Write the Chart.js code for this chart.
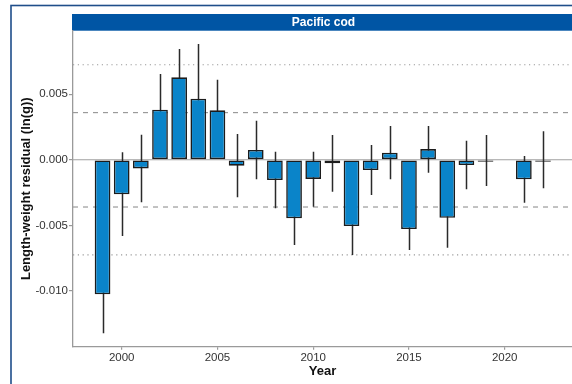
<!DOCTYPE html>
<html>
<head>
<meta charset="utf-8">
<script src="https://cdn.jsdelivr.net/npm/chart.js@4.4.1/dist/chart.umd.min.js"></script>
<style>
  html, body { margin: 0; padding: 0; background: #fff; overflow: hidden; }
  #wrap { width: 572px; height: 384px; }
</style>
</head>
<body>
<div id="wrap"><canvas id="c" width="572" height="384"></canvas></div>
<script>
// Survey years and mean length-weight residuals, ln(g)
const years = [1999, 2000, 2001, 2002, 2003, 2004, 2005, 2006, 2007, 2008, 2009, 2010,
               2011, 2012, 2013, 2014, 2015, 2016, 2017, 2018, 2019, 2020, 2021, 2022];
const residual = [-0.01026, -0.00263, -0.00066, 0.00382, 0.00629, 0.00466, 0.00377, -0.00045,
                  0.00075, -0.00154, -0.00446, -0.00146, -0.00027, -0.00505, -0.00078, 0.00054,
                  -0.00528, 0.00082, -0.00442, -0.00040, -0.00007, null, -0.00149, -0.00002];
// Lower and upper ends of the error bars
const errLow = [-0.01323, -0.00581, -0.00324, 0.00110, 0.00413, 0.00049, 0.00143, -0.00286,
                -0.00149, -0.00370, -0.00650, -0.00358, -0.00243, -0.00726, -0.00268, -0.00149,
                -0.00688, -0.00098, -0.00670, -0.00225, -0.00200, null, -0.00327, -0.00217];
const errHigh = [-0.00729, 0.00057, 0.00191, 0.00654, 0.00845, 0.00883, 0.00611, 0.00197,
                 0.00298, 0.00062, -0.00242, 0.00062, 0.00189, -0.00284, 0.00113, 0.00258,
                 -0.00368, 0.00258, -0.00214, 0.00146, 0.00189, null, 0.00029, 0.00217];
// Reference lines: one (dashed) and two (dotted) standard deviations
const sdOne = 0.0036;
const sdTwo = 0.00725;
const xTicks = [2000, 2005, 2010, 2015, 2020];
const yTicks = [-0.010, -0.005, 0.000, 0.005];
const panelTitle = 'Pacific cod';

const FONT = '"Liberation Sans", Arial, Helvetica, sans-serif';

const points = [];
years.forEach((yr, i) => { if (residual[i] !== null) points.push({ x: yr, y: residual[i] }); });

// Page frame, facet strip, reference lines and error bars
const decor = {
  id: 'decor',
  beforeDraw(chart) {
    const { ctx, chartArea } = chart;
    ctx.save();
    ctx.fillStyle = '#ffffff';
    ctx.fillRect(0, 0, chart.width, chart.height);
    ctx.strokeStyle = '#1F4E8A';
    ctx.lineWidth = 1.6;
    ctx.strokeRect(11, 5.5, 700, 500);
    // facet strip
    ctx.fillStyle = '#0055A4';
    ctx.fillRect(chartArea.left - 1, 14, 520, chartArea.top - 14);
    ctx.fillStyle = '#ffffff';
    ctx.font = 'bold 12px ' + FONT;
    ctx.textAlign = 'center';
    ctx.textBaseline = 'middle';
    ctx.fillText(panelTitle, 323.5, (14 + chartArea.top) / 2 + 0.5);
    ctx.restore();
  },
  beforeDatasetsDraw(chart) {
    const { ctx, chartArea, scales } = chart;
    const y = scales.y, x = scales.x;
    ctx.save();
    ctx.beginPath();
    ctx.rect(chartArea.left, chartArea.top, chartArea.right - chartArea.left, chartArea.bottom - chartArea.top);
    ctx.clip();
    const hline = (v, dash, color, w) => {
      const py = y.getPixelForValue(v);
      ctx.beginPath();
      ctx.setLineDash(dash);
      ctx.strokeStyle = color;
      ctx.lineWidth = w;
      ctx.moveTo(chartArea.left, py);
      ctx.lineTo(chartArea.right, py);
      ctx.stroke();
    };
    hline(0, [], '#a0a0a0', 1.1);
    hline(sdOne, [5, 5], '#9a9a9a', 1.2);
    hline(-sdOne, [5, 5], '#9a9a9a', 1.2);
    hline(sdTwo, [1.2, 3.6], '#9a9a9a', 1.2);
    hline(-sdTwo, [1.2, 3.6], '#9a9a9a', 1.2);
    ctx.setLineDash([]);
    ctx.strokeStyle = '#2a2a2a';
    ctx.lineWidth = 1.5;
    years.forEach((yr, i) => {
      if (errLow[i] === null) return;
      const px = Math.round(x.getPixelForValue(yr)) + 0.5;
      ctx.beginPath();
      ctx.moveTo(px, y.getPixelForValue(errLow[i]));
      ctx.lineTo(px, y.getPixelForValue(errHigh[i]));
      ctx.stroke();
    });
    ctx.restore();
  }
};

new Chart(document.getElementById('c'), {
  type: 'bar',
  data: {
    datasets: [{
      data: points,
      backgroundColor: '#0A84C9',
      borderColor: '#1c1c1c',
      borderWidth: 1.6,
      borderSkipped: false,
      minBarLength: 2,
      barPercentage: 0.82,
      categoryPercentage: 1.0
    }]
  },
  options: {
    responsive: false,
    animation: false,
    devicePixelRatio: 1,
    layout: { padding: { left: 0, right: 0, top: 30.7, bottom: 0 } },
    plugins: { legend: { display: false }, tooltip: { enabled: false }, title: { display: false } },
    scales: {
      x: {
        type: 'linear',
        min: 1997.457,
        max: 2023.514,
        offset: false,
        afterBuildTicks: s => { s.ticks = xTicks.map(v => ({ value: v })); },
        afterFit: s => { s.height = 37.3; },
        grid: { offset: false, drawOnChartArea: false, drawTicks: true, tickLength: 3, color: '#999999', lineWidth: 1.2 },
        border: { display: true, color: '#9a9a9a', width: 1.3 },
        ticks: { font: { family: FONT, size: 11.5 }, color: '#333333', padding: 1, maxRotation: 0, autoSkip: false,
                 callback: v => String(v) },
        title: { display: true, text: 'Year', color: '#111111',
                 font: { family: FONT, size: 13, weight: 'bold' }, padding: { top: 0, bottom: 5 } }
      },
      y: {
        min: -0.014253,
        max: 0.009845,
        afterBuildTicks: s => { s.ticks = yTicks.map(v => ({ value: v })); },
        afterFit: s => { s.width = 73; },
        grid: { offset: false, drawOnChartArea: false, drawTicks: true, tickLength: 4, color: '#999999', lineWidth: 1.2 },
        border: { display: true, color: '#9a9a9a', width: 1.3 },
        ticks: { font: { family: FONT, size: 11.5 }, color: '#333333', padding: 1,
                 callback: v => v.toFixed(3) },
        title: { display: true, text: 'Length-weight residual (ln(g))', color: '#111111',
                 font: { family: FONT, size: 13, weight: 'bold' }, padding: { top: 19, bottom: 0 } }
      }
    }
  },
  plugins: [decor]
});
</script>
</body>
</html>
